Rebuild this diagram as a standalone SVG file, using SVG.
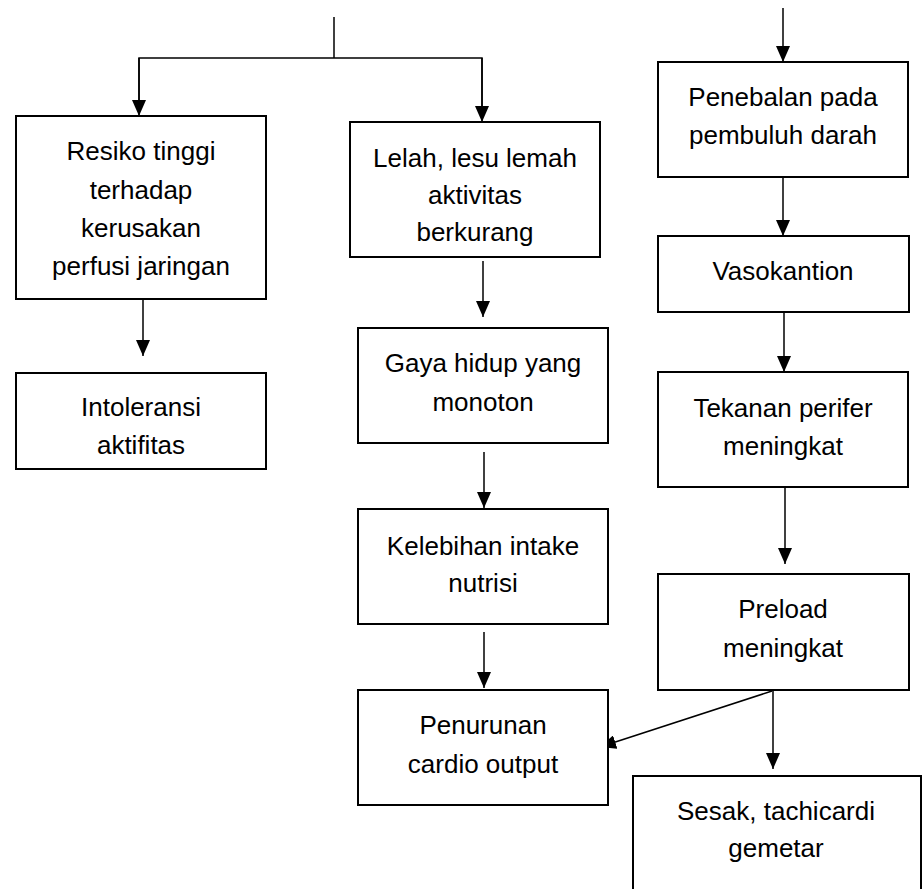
<svg xmlns="http://www.w3.org/2000/svg" width="922" height="889" viewBox="0 0 922 889">
<style>
.box{fill:#fff;stroke:#000;stroke-width:2}
.t{font-family:"Liberation Sans",Arial,sans-serif;font-size:26px;fill:#000;text-anchor:middle}
.c{stroke:#000;stroke-width:1.5;fill:none}
</style>
<defs>
<marker id="ah" markerUnits="userSpaceOnUse" markerWidth="16" markerHeight="14" refX="16" refY="7" orient="auto">
<path d="M0,0 L16,7 L0,14 z" fill="#000"/>
</marker>
</defs>
<rect width="922" height="889" fill="#fff"/>
<g id="connectors">
<line class="c" x1="334" y1="17" x2="334" y2="58"/>
<polyline class="c" points="139,100 139,58 482,58 482,106"/>
<line class="c" x1="139" y1="58" x2="139" y2="116" marker-end="url(#ah)"/>
<line class="c" x1="482" y1="58" x2="482" y2="122" marker-end="url(#ah)"/>
<line class="c" x1="143" y1="300" x2="143" y2="356" marker-end="url(#ah)"/>
<line class="c" x1="483" y1="261" x2="483" y2="317" marker-end="url(#ah)"/>
<line class="c" x1="484" y1="452" x2="484" y2="508" marker-end="url(#ah)"/>
<line class="c" x1="484" y1="632" x2="484" y2="688" marker-end="url(#ah)"/>
<line class="c" x1="783" y1="8" x2="783" y2="62" marker-end="url(#ah)"/>
<line class="c" x1="783" y1="177" x2="783" y2="236" marker-end="url(#ah)"/>
<line class="c" x1="784" y1="312" x2="784" y2="372" marker-end="url(#ah)"/>
<line class="c" x1="785" y1="487" x2="785" y2="564" marker-end="url(#ah)"/>
<line class="c" x1="772" y1="691" x2="600" y2="747" marker-end="url(#ah)"/>
<line class="c" x1="773" y1="691" x2="773" y2="769" marker-end="url(#ah)"/>
</g>
<g id="resiko">
<rect class="box" x="16" y="116" width="250" height="183"/>
<text class="t" x="141" y="160">Resiko tinggi</text>
<text class="t" x="141" y="199">terhadap</text>
<text class="t" x="141" y="237">kerusakan</text>
<text class="t" x="141" y="275">perfusi jaringan</text>
</g>
<g id="intoleransi">
<rect class="box" x="16" y="373" width="250" height="96"/>
<text class="t" x="141" y="416">Intoleransi</text>
<text class="t" x="141" y="454">aktifitas</text>
</g>
<g id="lelah">
<rect class="box" x="350" y="122" width="250" height="135"/>
<text class="t" x="475" y="167">Lelah, lesu lemah</text>
<text class="t" x="475" y="204">aktivitas</text>
<text class="t" x="475" y="241">berkurang</text>
</g>
<g id="gaya">
<rect class="box" x="358" y="328" width="250" height="115"/>
<text class="t" x="483" y="372">Gaya hidup yang</text>
<text class="t" x="483" y="411">monoton</text>
</g>
<g id="kelebihan">
<rect class="box" x="358" y="509" width="250" height="115"/>
<text class="t" x="483" y="555">Kelebihan intake</text>
<text class="t" x="483" y="592">nutrisi</text>
</g>
<g id="penurunan">
<rect class="box" x="358" y="690" width="250" height="115"/>
<text class="t" x="483" y="734">Penurunan</text>
<text class="t" x="483" y="773">cardio output</text>
</g>
<g id="penebalan">
<rect class="box" x="658" y="62" width="250" height="115"/>
<text class="t" x="783" y="106">Penebalan pada</text>
<text class="t" x="783" y="144">pembuluh darah</text>
</g>
<g id="vasokantion">
<rect class="box" x="658" y="236" width="251" height="76"/>
<text class="t" x="783" y="280">Vasokantion</text>
</g>
<g id="tekanan">
<rect class="box" x="658" y="372" width="250" height="115"/>
<text class="t" x="783" y="417">Tekanan perifer</text>
<text class="t" x="783" y="455">meningkat</text>
</g>
<g id="preload">
<rect class="box" x="658" y="574" width="251" height="116"/>
<text class="t" x="783" y="618">Preload</text>
<text class="t" x="783" y="657">meningkat</text>
</g>
<g id="sesak">
<rect class="box" x="633" y="776" width="288" height="130"/>
<text class="t" x="776" y="820">Sesak, tachicardi</text>
<text class="t" x="776" y="857">gemetar</text>
</g>
</svg>
